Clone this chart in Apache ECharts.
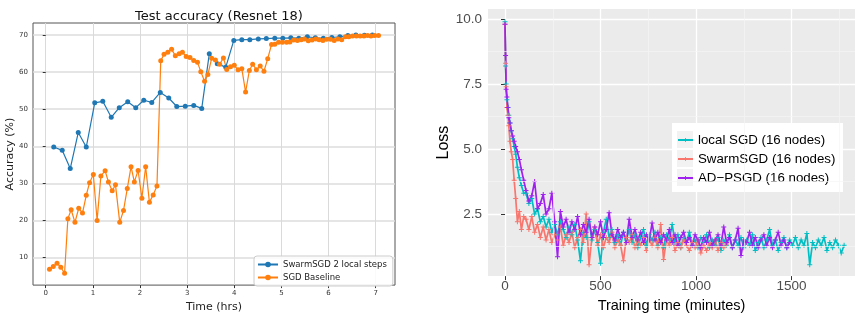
<!DOCTYPE html>
<html>
<head>
<meta charset="utf-8">
<script src="https://cdn.jsdelivr.net/npm/echarts@6/dist/echarts.min.js"></script>
<style>
  html, body { margin: 0; padding: 0; background: #fff; }
  #main { width: 855px; height: 318px; }
</style>
</head>
<body>
<div id="main"></div>
<script>
// ---- left panel: test accuracy (hours / %) ----
var hourTicks = [0, 1, 2, 3, 4, 5, 6, 7];
var accTicks = [10, 20, 30, 40, 50, 60, 70];

var swarmTime = [0.17, 0.35, 0.52, 0.69, 0.86, 1.04, 1.21, 1.39, 1.56, 1.74,
  1.91, 2.08, 2.25, 2.43, 2.61, 2.78, 2.96, 3.14, 3.31, 3.47,
  3.64, 3.82, 3.99, 4.16, 4.33, 4.51, 4.68, 4.86, 5.03, 5.20,
  5.37, 5.55, 5.72, 5.89, 6.07, 6.24, 6.41, 6.58, 6.76, 6.93];
var swarmAcc = [39.8, 38.9, 34.0, 43.7, 39.8, 51.7, 52.1, 47.8, 50.4, 52.0,
  50.4, 52.4, 51.8, 54.5, 53.0, 50.7, 50.8, 51.0, 50.2, 64.9,
  62.2, 61.3, 68.5, 68.7, 68.7, 68.9, 69.0, 69.1, 69.1, 69.2,
  69.1, 69.5, 69.2, 69.1, 69.3, 69.5, 69.8, 70.0, 69.9, 70.0];

var baseTime = [0.08, 0.16, 0.24, 0.32, 0.40, 0.47, 0.54, 0.62, 0.70, 0.78,
  0.86, 0.93, 1.01, 1.09, 1.17, 1.26, 1.33, 1.41, 1.48, 1.57,
  1.65, 1.73, 1.81, 1.88, 1.96, 2.04, 2.12, 2.20, 2.28, 2.36,
  2.44, 2.51, 2.59, 2.67, 2.75, 2.83, 2.90, 2.98, 3.06, 3.14,
  3.22, 3.29, 3.37, 3.44, 3.52, 3.60, 3.69, 3.77, 3.84, 3.92,
  4.00, 4.08, 4.16, 4.24, 4.32, 4.39, 4.47, 4.55, 4.63, 4.71,
  4.79, 4.86, 4.94, 5.02, 5.11, 5.18, 5.26, 5.34, 5.42, 5.49,
  5.57, 5.65, 5.73, 5.80, 5.88, 5.96, 6.04, 6.12, 6.20, 6.28,
  6.36, 6.43, 6.51, 6.59, 6.67, 6.75, 6.83, 6.90, 6.98, 7.06];
var baseAcc = [6.9, 7.6, 8.5, 7.4, 5.8, 20.5, 22.9, 19.5, 23.3, 22.0,
  26.8, 30.2, 32.4, 20.0, 32.0, 33.4, 30.4, 28.0, 29.6, 19.5,
  22.7, 28.6, 34.5, 30.4, 33.5, 26.0, 34.5, 24.9, 26.9, 29.3,
  63.0, 64.8, 65.3, 66.1, 64.4, 64.9, 65.3, 64.2, 63.9, 63.1,
  62.6, 60.1, 57.5, 59.3, 63.7, 63.2, 62.1, 63.8, 60.7, 61.4,
  61.8, 60.6, 60.9, 54.6, 60.4, 62.1, 60.6, 61.6, 60.2, 63.6,
  67.4, 67.5, 68.0, 68.0, 68.0, 68.1, 68.6, 68.5, 68.7, 68.9,
  68.4, 68.6, 68.9, 68.7, 68.5, 68.8, 68.8, 68.5, 68.9, 68.7,
  69.5, 69.5, 69.7, 69.7, 69.7, 69.7, 69.8, 69.7, 69.8, 69.8];

// ---- right panel: loss vs training time (minutes) ----
var minuteTicks = [0, 500, 1000, 1500];
var minuteMinor = [250, 750, 1250, 1750];
var lossTicks = [2.5, 5, 7.5, 10];
var lossMinor = [1.25, 3.75, 6.25, 8.75];

// first minutes are sampled densely, then every 15 min from minute 110
var earlyMinutes = [0, 3, 6, 10, 15, 20, 26, 33, 40, 48, 56, 65, 75, 86, 98];
var sampleStart = 110, sampleStep = 15;

var localEarly = [9.9, 8.2, 7.5, 6.9, 6.6, 6.3, 6.0, 5.7, 5.4, 5.1, 4.8, 4.3, 3.9, 3.6, 3.3];
var localLoss = [3.3, 2.9, 3.1, 2.5, 2.7, 2.2, 2.4, 2.0, 2.3, 1.8,
  2.1, 1.7, 2.2, 1.9, 1.6, 2.0, 1.7, 2.1, 1.5, 0.7,
  1.8, 1.6, 2.2, 1.5, 1.9, 1.4, 0.6, 1.8, 2.3, 1.6,
  1.9, 1.4, 1.7, 1.3, 1.8, 1.5, 1.9, 1.4, 1.7, 1.2,
  1.6, 1.9, 1.3, 1.7, 1.5, 1.8, 1.3, 1.6, 1.2, 1.7,
  1.5, 2.1, 1.4, 1.7, 1.2, 1.6, 1.4, 1.8, 1.3, 1.5,
  1.2, 1.6, 1.4, 1.7, 1.2, 1.5, 1.3, 1.6, 1.1, 1.5,
  1.3, 1.7, 1.2, 1.5, 1.3, 1.6, 1.2, 1.5, 1.3, 1.7,
  1.1, 1.4, 1.6, 1.2, 1.5, 1.9, 1.3, 1.5, 1.1, 1.4,
  1.6, 1.2, 1.5, 1.3, 1.6, 1.2, 1.5, 1.3, 1.75, 0.55,
  1.4, 1.2, 1.5, 1.3, 1.6, 1.1, 1.4, 1.2, 1.5, 1.3,
  1.0, 1.3];

var swarmEarly = [9.8, 8.3, 7.4, 6.6, 6.3, 5.9, 5.3, 4.9, 4.6, 3.8, 3.1, 2.2, 2.6, 1.9, 2.4];
var swarmLoss = [2.3, 1.9, 2.4, 1.8, 2.1, 1.6, 2.0, 1.5, 1.9, 1.4,
  1.7, 1.5, 2.0, 1.3, 1.7, 1.4, 1.8, 1.2, 1.6, 1.9,
  1.4, 2.5, 0.55, 1.6, 2.0, 1.3, 1.7, 1.2, 1.6, 1.4,
  1.8, 1.2, 1.5, 1.3, 0.7, 1.6, 1.4, 1.7, 1.2, 1.5,
  1.3, 1.6, 1.1, 1.5, 1.3, 1.6, 1.2, 2.1, 0.75, 1.5,
  1.3, 1.6, 1.1, 1.4, 1.2, 1.5, 1.3, 1.1, 1.4, 1.2,
  1.5, 1.0, 1.3, 1.1, 1.4, 1.2, 1.5, 1.1, 1.4, 1.2,
  1.35];

var adpsgdEarly = [9.8, 8.6, 7.3, 7.0, 6.6, 6.2, 6.0, 5.7, 5.5, 5.3, 5.1, 4.9, 4.6, 4.2, 3.8];
var adpsgdLoss = [3.4, 3.0, 3.2, 3.75, 2.7, 2.9, 3.25, 2.5, 2.7, 3.3,
  2.2, 0.85, 2.6, 2.0, 2.3, 1.8, 2.2, 1.9, 2.4, 1.7,
  2.1, 1.8, 2.3, 1.6, 2.0, 1.7, 2.2, 1.6, 1.9, 2.55,
  1.7, 1.5, 1.9, 1.6, 1.8, 1.4, 2.3, 1.6, 1.9, 1.5,
  1.8, 1.4, 1.7, 1.5, 2.15, 1.5, 1.8, 1.4, 1.7, 1.5,
  1.9, 1.4, 1.7, 1.3, 1.6, 1.8, 1.4, 1.6, 1.3, 1.7,
  1.5, 1.2, 1.6, 1.4, 1.8, 1.3, 1.5, 1.7, 1.3, 2.0,
  1.4, 1.6, 1.2, 1.5, 1.95, 0.9, 1.5, 1.4, 1.8, 1.3,
  1.6, 1.2, 1.5, 1.7, 1.3, 1.6, 1.2, 1.5, 1.8, 1.3,
  1.5, 1.2, 1.4];

function pairs(ts, vs) {
  return vs.map(function (v, i) { return [ts[i], v]; });
}
function lossPairs(early, late) {
  var out = pairs(earlyMinutes, early);
  late.forEach(function (v, i) { out.push([sampleStart + i * sampleStep, v]); });
  return out;
}

var plusIcon = 'path://M2,0L3,0L3,2L5,2L5,3L3,3L3,5L2,5L2,3L0,3L0,2L2,2Z';
var mpl = 'DejaVu Sans';
var gg = 'Liberation Sans';

var chart = echarts.init(document.getElementById('main'));

function lossLine(name, color, data, z) {
  return {
    name: name, type: 'line', xAxisIndex: 1, yAxisIndex: 1, z: z,
    data: data,
    symbol: plusIcon, symbolSize: 5,
    lineStyle: { color: color, width: 1.7 },
    itemStyle: { color: color },
    animation: false
  };
}

var minorMarks = minuteMinor.map(function (m) { return { xAxis: m }; })
  .concat(lossMinor.map(function (l) { return { yAxis: l }; }));

var option = {
  animation: false,
  title: {
    text: 'Test accuracy (Resnet 18)',
    left: 214, top: 5, textAlign: 'center',
    textStyle: { fontFamily: mpl, fontSize: 13, fontWeight: 'normal', color: '#111' }
  },
  grid: [
    { left: 33, top: 23, width: 362, height: 270, show: true, borderColor: '#555', borderWidth: 1, backgroundColor: 'transparent' },
    { left: 488, top: 9, width: 367, height: 269, show: true, borderWidth: 0, backgroundColor: '#EBEBEB' }
  ],
  xAxis: [
    {
      gridIndex: 0, type: 'value', min: -0.27, max: 7.41,
      axisLine: { show: false },
      axisTick: { show: true, customValues: hourTicks, length: 3, lineStyle: { color: '#333' } },
      axisLabel: { customValues: hourTicks, fontSize: 7, fontFamily: mpl, color: '#333', margin: 5 },
      splitLine: { show: true, lineStyle: { color: '#dadada', width: 1 } },
      name: 'Time (hrs)', nameLocation: 'middle', nameGap: 12,
      nameTextStyle: { fontFamily: mpl, fontSize: 11, color: '#222' }
    },
    {
      gridIndex: 1, type: 'value', min: -89, max: 1832,
      axisLine: { show: false },
      axisTick: { show: true, customValues: minuteTicks, length: 4, lineStyle: { color: '#333' } },
      axisLabel: { customValues: minuteTicks, fontSize: 13.5, fontFamily: gg, color: '#4D4D4D', margin: 3,
        formatter: function (v) { return String(v); } },
      splitLine: { show: true, lineStyle: { color: '#fff', width: 1.3 } },
      name: 'Training time (minutes)', nameLocation: 'middle', nameGap: 19,
      nameTextStyle: { fontFamily: gg, fontSize: 14.5, color: '#000' }
    }
  ],
  yAxis: [
    {
      gridIndex: 0, type: 'value', min: 2.6, max: 73.2,
      axisLine: { show: false },
      axisTick: { show: true, customValues: accTicks, length: 3, lineStyle: { color: '#333' } },
      axisLabel: { customValues: accTicks, fontSize: 7, fontFamily: mpl, color: '#333', margin: 5 },
      splitLine: { show: true, lineStyle: { color: '#dcdcdc', width: 1.5 } },
      name: 'Accuracy (%)', nameLocation: 'middle', nameGap: 13,
      nameTextStyle: { fontFamily: mpl, fontSize: 11, color: '#222' }
    },
    {
      gridIndex: 1, type: 'value', min: 0.11, max: 10.39,
      axisLine: { show: false },
      axisTick: { show: true, customValues: lossTicks, length: 4, lineStyle: { color: '#333' } },
      axisLabel: { customValues: lossTicks, fontSize: 13.5, fontFamily: gg, color: '#4D4D4D', margin: 6,
        formatter: function (v) { return v.toFixed(1); } },
      splitLine: { show: true, lineStyle: { color: '#fff', width: 1.3 } },
      name: 'Loss', nameLocation: 'middle', nameGap: 30,
      nameTextStyle: { fontFamily: gg, fontSize: 16, color: '#000' }
    }
  ],
  legend: [
    {
      orient: 'vertical', left: 254, top: 256,
      data: ['SwarmSGD 2 local steps', 'SGD Baseline'],
      itemWidth: 20, itemHeight: 7, itemGap: 4,
      padding: [4, 6, 4, 3],
      backgroundColor: 'rgba(255,255,255,0.85)', borderColor: '#ccc', borderWidth: 1, borderRadius: 3,
      textStyle: { fontFamily: mpl, fontSize: 8.5, color: '#222' }
    },
    {
      orient: 'vertical', left: 675, top: 123,
      data: ['local SGD (16 nodes)', 'SwarmSGD (16 nodes)', 'AD\u2212PSGD (16 nodes)'],
      itemWidth: 15, itemHeight: 5, itemGap: 3,
      padding: [9, 6, 7, 2],
      textStyle: { fontFamily: gg, fontSize: 13.3, color: '#000', lineHeight: 16 }
    }
  ],
  graphic: [
    { type: 'rect', z: 3, shape: { x: 672, y: 123, width: 171, height: 69 }, style: { fill: '#fff' } },
    { type: 'rect', z: 3, shape: { x: 677, y: 131, width: 16, height: 17 }, style: { fill: '#F2F2F2' } },
    { type: 'rect', z: 3, shape: { x: 677, y: 150, width: 16, height: 17 }, style: { fill: '#F2F2F2' } },
    { type: 'rect', z: 3, shape: { x: 677, y: 169, width: 16, height: 17 }, style: { fill: '#F2F2F2' } }
  ],
  series: [
    {
      name: 'SwarmSGD 2 local steps', type: 'line', xAxisIndex: 0, yAxisIndex: 0,
      data: pairs(swarmTime, swarmAcc),
      symbol: 'circle', symbolSize: 5,
      lineStyle: { color: '#1f77b4', width: 1.2 }, itemStyle: { color: '#1f77b4' }
    },
    {
      name: 'SGD Baseline', type: 'line', xAxisIndex: 0, yAxisIndex: 0,
      data: pairs(baseTime, baseAcc),
      symbol: 'circle', symbolSize: 5,
      lineStyle: { color: '#ff7f0e', width: 1.2 }, itemStyle: { color: '#ff7f0e' }
    },
    {
      name: 'minor grid', type: 'line', xAxisIndex: 1, yAxisIndex: 1, z: 1,
      data: [], silent: true,
      markLine: {
        silent: true, symbol: ['none', 'none'], label: { show: false },
        lineStyle: { color: '#F5F5F5', width: 0.7, type: 'solid' },
        data: minorMarks
      }
    },
    lossLine('local SGD (16 nodes)', '#00BFC4', lossPairs(localEarly, localLoss), 2),
    lossLine('SwarmSGD (16 nodes)', '#F8766D', lossPairs(swarmEarly, swarmLoss), 2),
    lossLine('AD\u2212PSGD (16 nodes)', '#A020F0', lossPairs(adpsgdEarly, adpsgdLoss), 2)
  ]
};

chart.setOption(option);
</script>
</body>
</html>
